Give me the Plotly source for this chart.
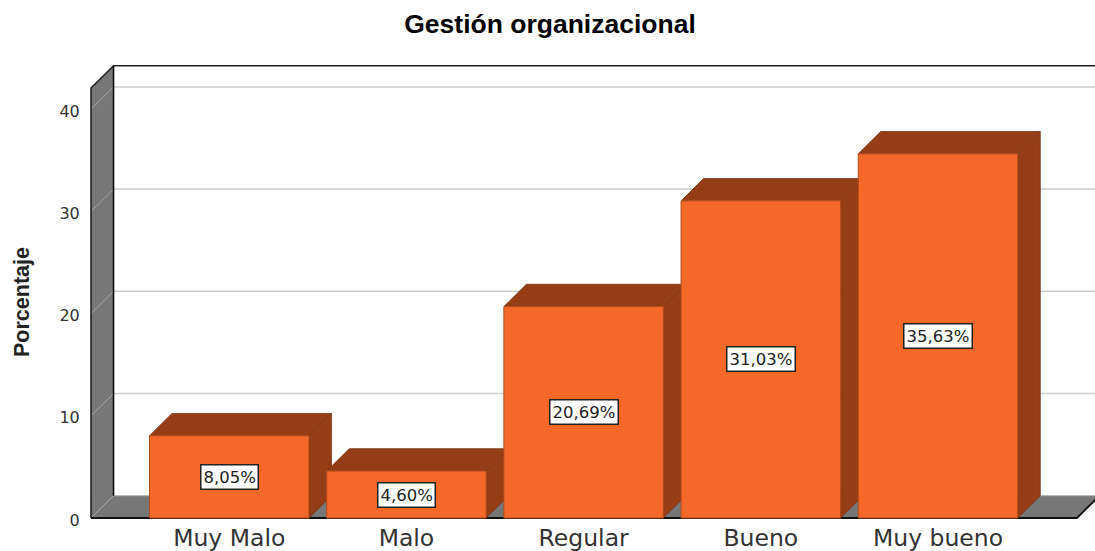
import plotly.graph_objects as go

categories = ["Muy Malo", "Malo", "Regular", "Bueno", "Muy bueno"]
porcentajes = [8.05, 4.60, 20.69, 31.03, 35.63]
etiquetas = ["8,05%", "4,60%", "20,69%", "31,03%", "35,63%"]
y_ticks = [0, 10, 20, 30, 40]

ORANGE = "#F4682A"
DARK = "#953D17"
EDGE = "#7A3212"
WALL = "#777777"

BAR_W = 0.9
DX = 0.127   # depth, x data units
DY = 2.18    # depth, y data units
WALL_L = -0.78
FLOOR_R = 4.784
WALL_TOP = 42.07
X_RANGE = [-0.814, 4.886]
Y_RANGE = [-0.39, 44.42]

fig = go.Figure()


def poly(xs, ys, fill, line=None, width=1, z=0):
    fig.add_trace(go.Scatter(
        x=xs, y=ys, mode="lines", fill="toself" if fill else "none",
        fillcolor=fill, line=dict(color=line or "rgba(0,0,0,0)", width=width),
        hoverinfo="skip", showlegend=False, zorder=z))


# side wall and floor
poly([WALL_L, WALL_L + DX, WALL_L + DX, WALL_L, WALL_L], [0, DY, WALL_TOP + DY, WALL_TOP, 0], WALL)
poly([WALL_L, WALL_L + DX, FLOOR_R + DX, FLOOR_R, WALL_L], [0, DY, DY, 0, 0], WALL)

# grid lines
for v in y_ticks:
    if v > 0:
        poly([WALL_L + DX, FLOOR_R + 1], [v + DY, v + DY], None, "#CDCDCD", 1.5, 1)
    poly([WALL_L, WALL_L + DX], [v, v + DY], None, "#A8A8A8", 1, 1)
poly([WALL_L + DX, FLOOR_R + 1], [DY, DY], None, "#B0B0B0", 1, 1)

# frame
poly([WALL_L, WALL_L, WALL_L + DX, FLOOR_R + 1], [0, WALL_TOP, WALL_TOP + DY, WALL_TOP + DY], None, "#222222", 1.6, 2)
poly([WALL_L + DX, WALL_L + DX], [DY, WALL_TOP + DY], None, "#111111", 1.6, 2)
poly([WALL_L, FLOOR_R, FLOOR_R + DX], [0, 0, DY], None, "#111111", 1.8, 2)

# bar depth faces
for i, v in enumerate(porcentajes):
    l, r = i - BAR_W / 2, i + BAR_W / 2
    poly([r, r + DX, r + DX, r, r], [0, DY, v + DY, v, 0], DARK, EDGE, 0.8, 3)
    poly([l, l + DX, r + DX, r, l], [v, v + DY, v + DY, v, v], DARK, EDGE, 0.8, 3)

# bar fronts
fig.add_trace(go.Bar(
    x=list(range(len(categories))), y=porcentajes, width=BAR_W,
    marker=dict(color=ORANGE, line=dict(color="#B04A1C", width=1)),
    hoverinfo="skip", showlegend=False, zorder=4))

for i, (v, t) in enumerate(zip(porcentajes, etiquetas)):
    fig.add_annotation(
        x=i, y=v / 2, text=t, showarrow=False, bgcolor="white",
        bordercolor="#222222", borderwidth=1.5, borderpad=2,
        font=dict(family="DejaVu Sans", size=16.5, color="#222222"))

fig.add_annotation(
    xref="paper", yref="paper", x=(22 - 85) / 1010, y=(522 - 302) / 458,
    xanchor="center", yanchor="middle",
    text="<b>Porcentaje</b>", textangle=-90, showarrow=False,
    font=dict(family="Liberation Sans", size=21.5, color="#222222"))

fig.update_layout(
    width=1095, height=551,
    margin=dict(l=85, r=0, t=64, b=29, pad=0, autoexpand=False),
    paper_bgcolor="white", plot_bgcolor="white",
    barmode="overlay", showlegend=False,
    title=dict(
        text="<b>Gestión organizacional</b>",
        x=550 / 1095, xref="container", xanchor="center",
        y=1 - 24 / 551, yref="container", yanchor="middle",
        font=dict(family="Liberation Sans", size=26.5, color="black")),
    xaxis=dict(
        range=X_RANGE, tickmode="array", tickvals=list(range(len(categories))),
        ticktext=categories, showgrid=False, zeroline=False, showline=False,
        automargin=False, ticks="", ticklabelstandoff=-1,
        tickfont=dict(family="DejaVu Sans", size=23.5, color="#333333")),
    yaxis=dict(
        range=Y_RANGE, tickmode="array", tickvals=y_ticks, ticktext=[str(v) for v in y_ticks],
        showgrid=False, zeroline=False, showline=False,
        automargin=False, ticks="outside", ticklen=1, tickcolor="rgba(0,0,0,0)",
        ticklabelshift=2,
        tickfont=dict(family="DejaVu Sans", size=16, color="#333333")),
)

fig.write_html("out.html", config={"displayModeBar": False},
               post_script="document.body.style.margin='0';document.documentElement.style.overflow='hidden';")
